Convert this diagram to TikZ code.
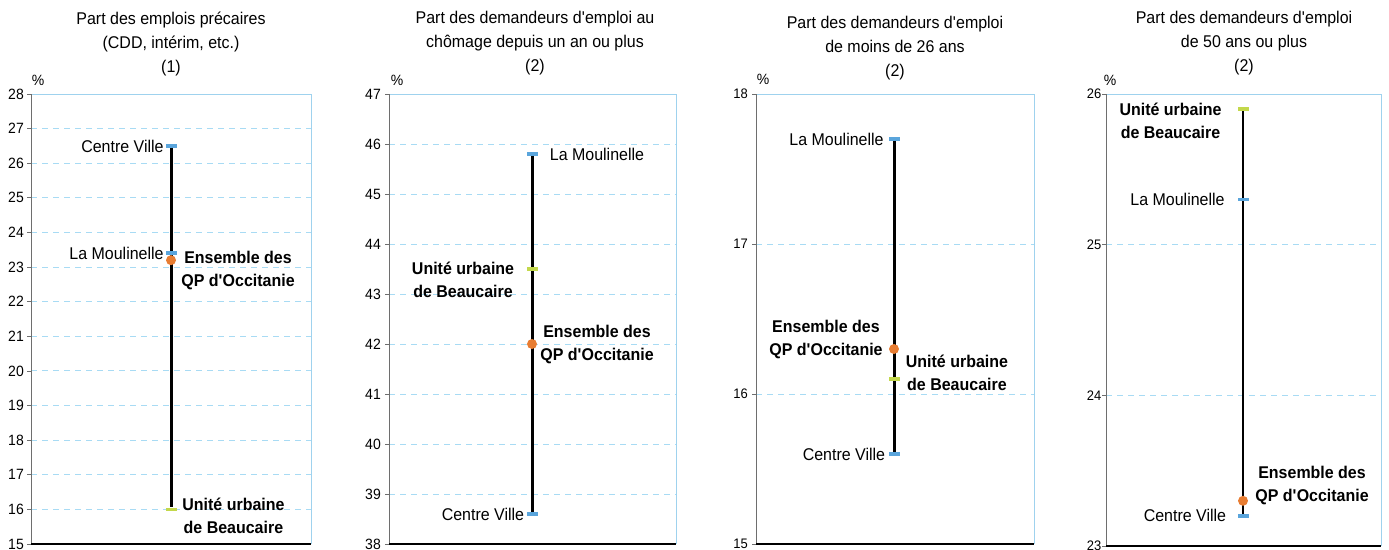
\documentclass[tikz,border=0pt]{standalone}
\usepackage{fontspec}
\setmainfont{Liberation Sans}[FakeStretch=0.94]
\usetikzlibrary{positioning}
\definecolor{gridblue}{HTML}{A8DBF4}
\definecolor{frameblue}{HTML}{9FD2EE}
\definecolor{axisgray}{HTML}{6E6E6E}
\definecolor{markblue}{HTML}{5AA5DC}
\definecolor{markgreen}{HTML}{C3D84B}
\definecolor{markorange}{HTML}{E87D32}
\newcommand{\ap}{\textquotesingle}

\begin{document}
\begin{tikzpicture}[x=1pt, y=-1pt,
    grid line/.style={draw=gridblue, line width=0.9pt, dash pattern=on 6pt off 5pt},
    frame line/.style={draw=frameblue, line width=0.9pt},
    axis line/.style={draw=axisgray, line width=1pt},
    base line/.style={draw=black, line width=1.1pt},
    tick line/.style={draw=axisgray, line width=0.8pt},
    tick label/.style={anchor=east, inner sep=0pt, font=\fontsize{14.9}{15}\selectfont},
    panel title/.style={align=center, font=\fontsize{17}{24}\selectfont},
    pct/.style={font=\fontsize{14.9}{15}\selectfont},
    zone/.style={inner sep=0pt, font=\fontsize{17}{19}\selectfont},
    zone bold/.style={inner sep=0pt, align=center, font=\bfseries\fontsize{17}{23}\selectfont},
    range line/.style={line width=3pt},
    bar mark/.style={rectangle, inner sep=0pt, minimum width=11pt, minimum height=3.5pt},
    cv/.style={bar mark, fill=markblue},
    lm/.style={bar mark, fill=markblue},
    uu/.style={bar mark, fill=markgreen},
    qp/.style={circle, inner sep=0pt, minimum size=10pt, fill=markorange},
  ]
  \useasboundingbox (0,0) rectangle (1389,549);

  % emplois precaires
  \node[panel title] (title1) at (171,44) {Part des emplois précaires\\(CDD, intérim, etc.)\\(1)};
  \node[pct] (pct1) at (38,80) {\%};
  \begin{scope}[yshift=-1063.23pt, y=34.615pt]
    \foreach \v in {16,...,27} \draw[grid line] (31,\v) -- (311,\v);
    \draw[frame line] (31,28) -- (311,28) -- (311,15);
    \draw[axis line] (31,28) -- (31,15);
    \draw[base line] (31,15) -- (311,15);
    \foreach \v in {15,...,28} {
      \draw[tick line] (27,\v) -- (31,\v);
      \node[tick label] (t1-\v) at (24,\v) {\v};
    }
    \node[cv] (cv1) at (171,26.5) {};
    \node[uu] (uu1) at (171,16) {};
    \draw[range line] (cv1) -- (uu1);
    \node[lm] (lm1) at (171,23.4) {};
    \node[qp] (qp1) at (171,23.2) {};
    \node[zone, left=1.5pt of cv1] (cv1-l) {Centre Ville};
    \node[zone, left=1.5pt of lm1] (lm1-l) {La Moulinelle};
    \node[zone bold, right=5pt of qp1, yshift=-10.5pt] (qp1-l) {Ensemble des\\QP d\ap Occitanie};
    \node[zone bold, right=5.5pt of uu1, yshift=-6.5pt] (uu1-l) {Unité urbaine\\de Beaucaire};
  \end{scope}

  % chomage depuis un an ou plus
  \node[panel title] (title2) at (535,43) {Part des demandeurs d\ap emploi au\\chômage depuis un an ou plus\\(2)};
  \node[pct] (pct2) at (397,80) {\%};
  \begin{scope}[yshift=-2444pt, y=50pt]
    \foreach \v in {39,...,46} \draw[grid line] (389,\v) -- (676,\v);
    \draw[frame line] (389,47) -- (676,47) -- (676,38);
    \draw[axis line] (389,47) -- (389,38);
    \draw[base line] (389,38) -- (676,38);
    \foreach \v in {38,...,47} {
      \draw[tick line] (385,\v) -- (389,\v);
      \node[tick label] (t2-\v) at (381,\v) {\v};
    }
    \node[lm] (lm2) at (532,45.8) {};
    \node[cv] (cv2) at (532,38.6) {};
    \draw[range line] (lm2) -- (cv2);
    \node[uu] (uu2) at (532,43.5) {};
    \node[qp] (qp2) at (532,42) {};
    \node[zone, right=12pt of lm2] (lm2-l) {La Moulinelle};
    \node[zone bold, left=12pt of uu2, yshift=-11pt] (uu2-l) {Unité urbaine\\de Beaucaire};
    \node[zone bold, right=3pt of qp2, yshift=-1pt] (qp2-l) {Ensemble des\\QP d\ap Occitanie};
    \node[zone, left=2pt of cv2] (cv2-l) {Centre Ville};
  \end{scope}

  % moins de 26 ans
  \node[panel title] (title3) at (895,48) {Part des demandeurs d\ap emploi\\de moins de 26 ans\\(2)};
  \node[pct] (pct3) at (763,79) {\%};
  \begin{scope}[yshift=-2794pt, y=150pt, tick label/.append style={font=\fontsize{13.8}{14}\selectfont}]
    \foreach \v in {16,17} \draw[grid line] (756,\v) -- (1034,\v);
    \draw[frame line] (756,18) -- (1034,18) -- (1034,15);
    \draw[axis line] (756,18) -- (756,15);
    \draw[base line] (756,15) -- (1034,15);
    \foreach \v in {15,...,18} {
      \draw[tick line] (752,\v) -- (756,\v);
      \node[tick label] (t3-\v) at (748,\v) {\v};
    }
    \node[lm] (lm3) at (894,17.7) {};
    \node[cv] (cv3) at (894,15.6) {};
    \draw[range line] (lm3) -- (cv3);
    \node[uu] (uu3) at (894,16.1) {};
    \node[qp] (qp3) at (894,16.3) {};
    \node[zone, left=4.5pt of lm3] (lm3-l) {La Moulinelle};
    \node[zone bold, left=6pt of qp3, yshift=9.5pt] (qp3-l) {Ensemble des\\QP d\ap Occitanie};
    \node[zone bold, right=6pt of uu3, yshift=6pt] (uu3-l) {Unité urbaine\\de Beaucaire};
    \node[zone, left=3pt of cv3] (cv3-l) {Centre Ville};
  \end{scope}

  % 50 ans ou plus
  \node[panel title] (title4) at (1244,43) {Part des demandeurs d\ap emploi\\de 50 ans ou plus\\(2)};
  \node[pct] (pct4) at (1110,80) {\%};
  \begin{scope}[yshift=-4011.4pt, y=150.67pt, tick label/.append style={font=\fontsize{13.8}{14}\selectfont}]
    \foreach \v in {24,25} \draw[grid line] (1106,\v) -- (1381,\v);
    \draw[frame line] (1106,26) -- (1381,26) -- (1381,23);
    \draw[axis line] (1106,26) -- (1106,23);
    \draw[base line] (1106,23) -- (1381,23);
    \foreach \v in {23,...,26} {
      \draw[tick line] (1102,\v) -- (1106,\v);
      \node[tick label] (t4-\v) at (1101.5,\v) {\v};
    }
    \node[uu] (uu4) at (1243,25.9) {};
    \node[cv] (cv4) at (1243,23.2) {};
    \draw[range line, line width=1.3pt] (uu4) -- (cv4);
    \node[lm] (lm4) at (1243,25.3) {};
    \node[qp] (qp4) at (1243,23.3) {};
    \node[zone bold, left=15.5pt of uu4, yshift=-12pt] (uu4-l) {Unité urbaine\\de Beaucaire};
    \node[zone, left=12.5pt of lm4] (lm4-l) {La Moulinelle};
    \node[zone bold, right=7pt of qp4, yshift=15.5pt] (qp4-l) {Ensemble des\\QP d\ap Occitanie};
    \node[zone, left=11pt of cv4] (cv4-l) {Centre Ville};
  \end{scope}
\end{tikzpicture}
\end{document}
